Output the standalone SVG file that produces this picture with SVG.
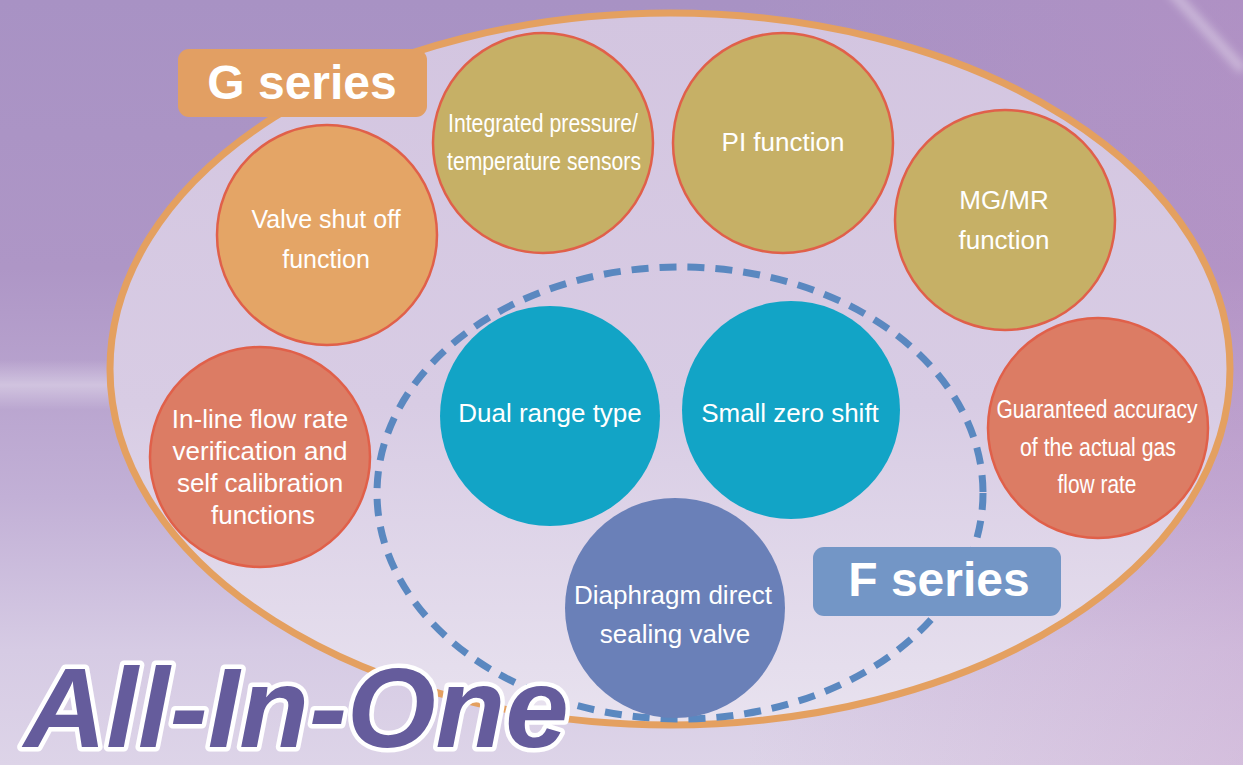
<svg xmlns="http://www.w3.org/2000/svg" width="1243" height="765" viewBox="0 0 1243 765">
  <defs>
    <linearGradient id="bg" x1="0" y1="0" x2="0" y2="1">
      <stop offset="0" stop-color="#a892c4"/>
      <stop offset="0.35" stop-color="#ae96c6"/>
      <stop offset="0.65" stop-color="#c2b0d6"/>
      <stop offset="0.85" stop-color="#d6cbe4"/>
      <stop offset="1" stop-color="#ddd4e8"/>
    </linearGradient>
    <linearGradient id="bgR" x1="0" y1="0" x2="1" y2="0">
      <stop offset="0.6" stop-color="#c08ec4" stop-opacity="0"/>
      <stop offset="1" stop-color="#c08ec4" stop-opacity="0.3"/>
    </linearGradient>
    <linearGradient id="streak" x1="0" y1="0" x2="0" y2="1">
      <stop offset="0" stop-color="#ffffff" stop-opacity="0"/>
      <stop offset="0.5" stop-color="#ffffff" stop-opacity="0.35"/>
      <stop offset="1" stop-color="#ffffff" stop-opacity="0"/>
    </linearGradient>
    <linearGradient id="inner" x1="0" y1="0" x2="0" y2="1">
      <stop offset="0" stop-color="#d3c5e0"/>
      <stop offset="0.55" stop-color="#d8cce4"/>
      <stop offset="1" stop-color="#e8e2ef"/>
    </linearGradient>
    <filter id="soft" x="-20%" y="-20%" width="140%" height="140%">
      <feGaussianBlur stdDeviation="4"/>
    </filter>
    <style>
      .circ { stroke: #e0604a; stroke-width: 2.5; }
      .olive { fill: #c6b066; }
      .orange { fill: #e4a566; }
      .red { fill: #dc7c64; }
      .teal { fill: #12a4c6; }
      .blue { fill: #6a80b8; }
      .t { font-family: "Liberation Sans", Arial, Helvetica, sans-serif; fill: #ffffff; text-anchor: middle; }
      .n25 { font-size: 25px; }
      .n26 { font-size: 26px; }
      .lbl { font-family: "Liberation Sans", Arial, Helvetica, sans-serif; font-weight: bold; font-size: 48px; fill: #ffffff; text-anchor: middle; }
      .big { font-family: "Liberation Sans", Arial, Helvetica, sans-serif; font-weight: bold; font-style: italic; font-size: 114px; fill: #655c9c; stroke: #ffffff; stroke-width: 9; stroke-linejoin: round; paint-order: stroke fill; }
    </style>
  </defs>

  <!-- background -->
  <rect x="0" y="0" width="1243" height="765" fill="url(#bg)"/>
  <rect x="0" y="0" width="1243" height="765" fill="url(#bgR)"/>
  <rect x="0" y="360" width="260" height="50" fill="url(#streak)"/>
  <line x1="1170" y1="-10" x2="1243" y2="70" stroke="#ffffff" stroke-opacity="0.35" stroke-width="10" filter="url(#soft)"/>

  <!-- G series container -->
  <g id="g-series">
    <ellipse cx="670" cy="369" rx="560" ry="356" fill="url(#inner)" stroke="#e4a060" stroke-width="7"/>
  </g>

  <!-- F series container (dashed) -->
  <g id="f-series-boundary">
    <ellipse cx="680" cy="493" rx="303" ry="226" fill="none" stroke="#5a88c0" stroke-width="7" stroke-dasharray="17 11"/>
  </g>

  <g id="node-valve">
    <circle class="circ orange" cx="327" cy="235" r="110"/>
    <text class="t n25" x="326" y="228">Valve shut off</text>
    <text class="t n25" x="326" y="268">function</text>
  </g>

  <g id="node-integrated">
    <circle class="circ olive" cx="543" cy="143" r="110"/>
    <text class="t n25" x="543" y="132" textLength="190" lengthAdjust="spacingAndGlyphs">Integrated pressure/</text>
    <text class="t n25" x="544" y="170" textLength="194" lengthAdjust="spacingAndGlyphs">temperature sensors</text>
  </g>

  <g id="node-pi">
    <circle class="circ olive" cx="783" cy="143" r="110"/>
    <text class="t n26" x="783" y="151">PI function</text>
  </g>

  <g id="node-mgmr">
    <circle class="circ olive" cx="1005" cy="220" r="110"/>
    <text class="t n26" x="1004" y="209">MG/MR</text>
    <text class="t n26" x="1004" y="249">function</text>
  </g>

  <g id="node-guaranteed">
    <circle class="circ red" cx="1098" cy="428" r="110"/>
    <text class="t n25" x="1097" y="418" textLength="201" lengthAdjust="spacingAndGlyphs">Guaranteed accuracy</text>
    <text class="t n25" x="1098" y="456" textLength="156" lengthAdjust="spacingAndGlyphs">of the actual gas</text>
    <text class="t n25" x="1097" y="493" textLength="79" lengthAdjust="spacingAndGlyphs">flow rate</text>
  </g>

  <g id="node-inline">
    <circle class="circ red" cx="260" cy="457" r="110"/>
    <text class="t n26" x="260" y="428">In-line flow rate</text>
    <text class="t n26" x="260" y="460">verification and</text>
    <text class="t n26" x="260" y="492">self calibration</text>
    <text class="t n26" x="263" y="524">functions</text>
  </g>

  <g id="node-dual">
    <circle class="teal" cx="550" cy="416" r="110"/>
    <text class="t n26" x="550" y="422">Dual range type</text>
  </g>

  <g id="node-zero">
    <circle class="teal" cx="791" cy="410" r="109"/>
    <text class="t n26" x="790" y="422">Small zero shift</text>
  </g>

  <g id="node-diaphragm">
    <circle class="blue" cx="675" cy="608" r="110"/>
    <text class="t n26" x="673" y="604">Diaphragm direct</text>
    <text class="t n26" x="675" y="643">sealing valve</text>
  </g>

  <g id="label-g">
    <rect x="178" y="49" width="249" height="68" rx="11" fill="#e29f63"/>
    <text class="lbl" x="302" y="99">G series</text>
  </g>

  <g id="label-f">
    <rect x="813" y="547" width="248" height="69" rx="11" fill="#7396c6"/>
    <text class="lbl" x="939" y="596">F series</text>
  </g>

  <g id="title">
    <text class="big" x="24" y="747">All-In-One</text>
  </g>
</svg>
